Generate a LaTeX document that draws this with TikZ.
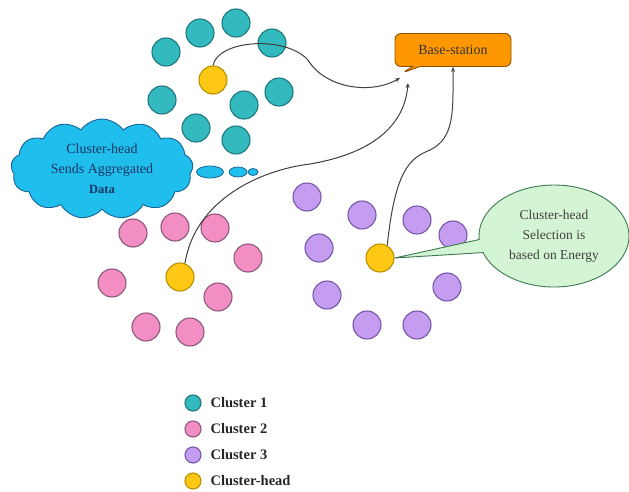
\documentclass[tikz,border=0pt]{standalone}
\usepackage{fontspec}
\setmainfont{Liberation Serif}
\usetikzlibrary{shapes.symbols,shapes.callouts,shapes.geometric,arrows.meta}

\definecolor{tealfill}{RGB}{50,186,190}
\definecolor{tealdraw}{RGB}{30,120,125}
\definecolor{pinkfill}{RGB}{242,142,196}
\definecolor{pinkdraw}{RGB}{140,90,120}
\definecolor{purpfill}{RGB}{196,156,240}
\definecolor{purpdraw}{RGB}{118,88,170}
\definecolor{headfill}{RGB}{255,200,20}
\definecolor{headdraw}{RGB}{185,145,0}
\definecolor{cloudfill}{RGB}{32,190,236}
\definecolor{clouddraw}{RGB}{22,100,150}
\definecolor{bsfill}{RGB}{255,152,0}
\definecolor{bsdraw}{RGB}{140,80,0}
\definecolor{selfill}{RGB}{212,245,212}
\definecolor{seldraw}{RGB}{60,120,80}
\definecolor{txtblue}{RGB}{25,55,100}

\begin{document}
\begin{tikzpicture}[x=1pt,y=-1pt,
    sensor/.style={circle,minimum size=28pt,inner sep=0pt,line width=1.1pt},
    c1/.style={sensor,fill=tealfill,draw=tealdraw},
    c2/.style={sensor,fill=pinkfill,draw=pinkdraw},
    c3/.style={sensor,fill=purpfill,draw=purpdraw},
    chead/.style={sensor,fill=headfill,draw=headdraw},
    keydot/.style={minimum size=16pt},
    keytext/.style={anchor=west,font=\fontsize{14.5}{16}\selectfont\bfseries,text=black!85},
    link/.style={draw=black!75,line width=1pt,-{Stealth[length=5pt,width=4pt]}},
    bubble/.style={ellipse,fill=cloudfill,draw=clouddraw,line width=0.8pt,inner sep=0pt}]
    \useasboundingbox (0,0) rectangle (629,492);

    % cluster 1
    \foreach \n/\x/\y in {a1/166/52, a2/200/33, a3/236/23, a4/272/43, a5/162/100,
        a6/244/105, a7/279/92, a8/196/128, a9/236/140}
        \node[c1] (\n) at (\x,\y) {};
    \node[chead] (ch1) at (213,80) {};

    % cluster 2
    \foreach \n/\x/\y in {b1/133/233, b2/175/227, b3/215/228, b4/248/258, b5/112/283,
        b6/218/297, b7/146/327, b8/190/332}
        \node[c2] (\n) at (\x,\y) {};
    \node[chead] (ch2) at (180,277) {};

    % cluster 3
    \foreach \n/\x/\y in {d1/307/197, d2/362/215, d3/417/220, d4/453/235, d5/319/248,
        d6/447/287, d7/327/295, d8/367/325, d9/417/325}
        \node[c3] (\n) at (\x,\y) {};
    \node[chead] (ch3) at (380,258) {};

    % cloud with thought bubbles
    \node[cloud,cloud puffs=13,cloud puff arc=110,aspect=1.8,fill=cloudfill,draw=clouddraw,
        line width=0.9pt,minimum width=182pt,minimum height=100pt,inner sep=0pt,
        align=center,text=txtblue,font=\fontsize{14}{20}\selectfont] (agg) at (102,169)
        {Cluster-head\\Sends Aggregated\\{\fontsize{12.5}{20}\selectfont\bfseries Data}};
    \node[bubble,minimum width=27pt,minimum height=12pt] (bb1) at (210,172) {};
    \node[bubble,minimum width=18pt,minimum height=10pt] (bb2) at (238,172) {};
    \node[bubble,minimum width=10pt,minimum height=7pt] (bb3) at (253,172) {};

    % base station
    \node[rectangle callout,rounded corners=6pt,fill=bsfill,draw=bsdraw,line width=0.9pt,
        minimum width=116pt,minimum height=33pt,callout absolute pointer={(402,73)},
        font=\fontsize{14}{16}\selectfont,text=black!80] (bs) at (453,50) {Base-station};

    % selection callout
    \node[ellipse callout,fill=selfill,draw=seldraw,line width=0.9pt,
        minimum width=150pt,minimum height=102pt,inner sep=0pt,
        callout absolute pointer={(ch3.east)},align=center,
        font=\fontsize{13.5}{20}\selectfont,text=black!75] (sel) at (554,236)
        {Cluster-head\\Selection is\\based on Energy};

    % links to base station
    \coordinate (in1) at (400,78);
    \coordinate (in2) at (408,83);
    \draw[link] (ch1.north) .. controls (218,40) and (285,35) .. (308,60)
        .. controls (325,88) and (370,95) .. (in1);
    \draw[link] (ch2.70) .. controls (195,200) and (260,170) .. (310,164)
        .. controls (380,152) and (405,120) .. (in2);
    \draw[link] (ch3.60) .. controls (395,170) and (410,158) .. (430,150)
        .. controls (455,138) and (453,110) .. (bs.south);

    % legend
    \node[c1,keydot] (k1) at (193,403) {};
    \node[c2,keydot] (k2) at (193,429) {};
    \node[c3,keydot] (k3) at (193,455) {};
    \node[chead,keydot] (k4) at (193,481) {};
    \node[keytext] (t1) at (207,403) {Cluster 1};
    \node[keytext] (t2) at (207,429) {Cluster 2};
    \node[keytext] (t3) at (207,455) {Cluster 3};
    \node[keytext] (t4) at (207,481) {Cluster-head};
\end{tikzpicture}
\end{document}
